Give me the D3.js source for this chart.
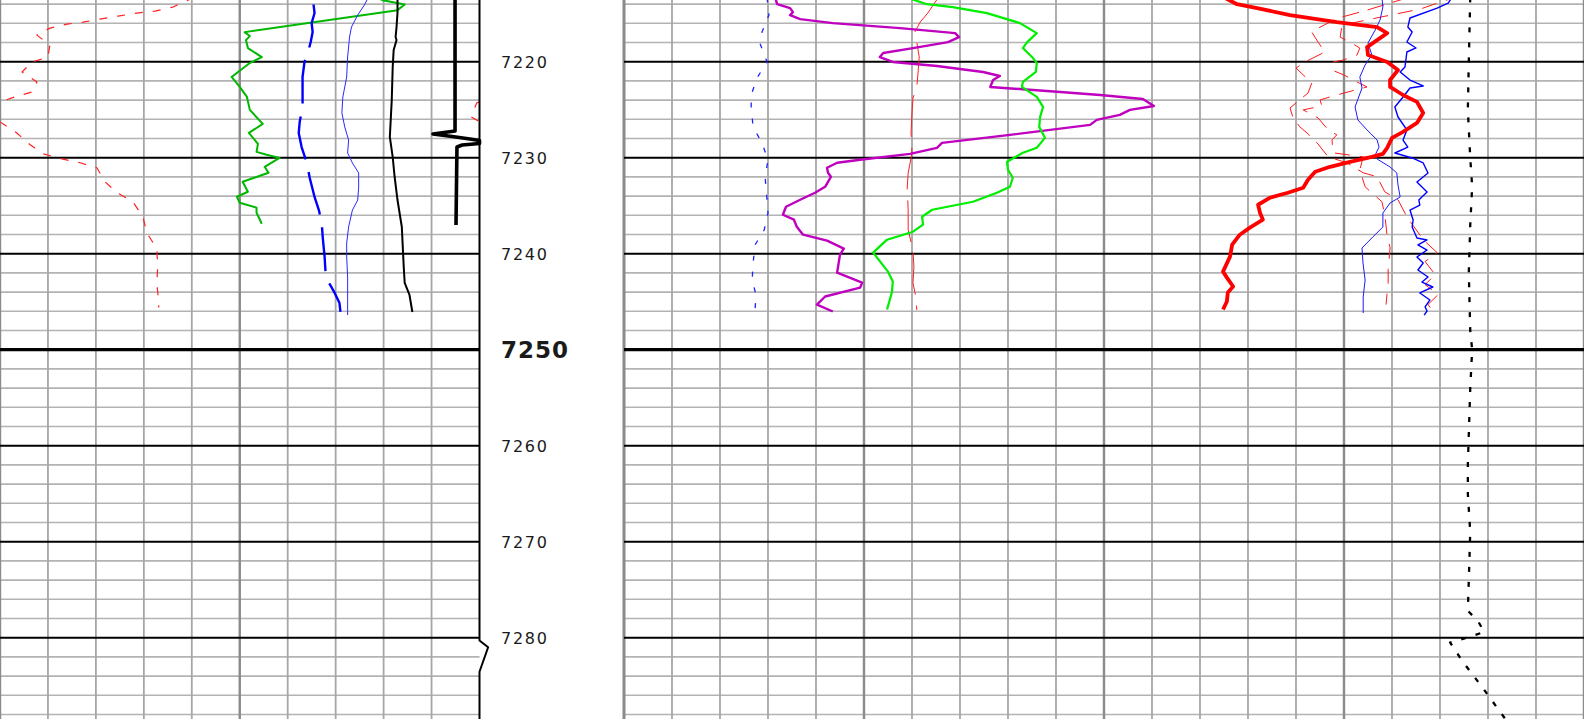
<!DOCTYPE html>
<html>
<head>
<meta charset="utf-8">
<script src="https://cdn.jsdelivr.net/npm/d3@7"></script>
<style>
  html, body { margin: 0; padding: 0; background: #fff; overflow: hidden; }
  svg { display: block; }
</style>
</head>
<body>
<svg id="log" width="1584" height="719"></svg>
<script>
// ---------------- depth window and labels ----------------
const depthTop = 7213.573, depthBottom = 7288.47;
const depthLabels = [7220, 7230, 7240, 7250, 7260, 7270, 7280];
const boldDepth = 7250;

// ---------------- track 1 curves (scale 0-100) ----------------
// red dashed resistivity, wraps around the track edges (backup scale)
const t1RedDepth = [7213.3, 7213.59, 7214.32, 7214.73, 7214.94, 7215.25, 7215.57, 7215.88, 7216.08, 7216.5, 7217.23, 7218.27, 7219.52, 7220.03, 7221.07, 7222.11, 7223.15, 7223.67, 7224.19, 7224.3, 7225.75, 7226.27, 7227.42, 7228.66, 7229.6, 7230.12, 7230.53, 7231.05, 7232.5, 7233.65, 7234.59, 7236.15, 7237.81, 7239.47, 7241.35, 7243.01, 7245.09, 7245.6];
const t1RedValue = [40.5, 39.2, 36.0, 32.3, 28.5, 24.6, 20.8, 17.3, 14.0, 10.4, 7.7, 10.4, 10.0, 6.7, 4.6, 7.7, 6.7, 3.1, 0, -0.6, -1.7, 0, 3.5, 6.3, 9.0, 12.9, 16.7, 20.2, 21.9, 24.4, 27.7, 29.8, 30.6, 32.7, 32.9, 32.7, 33.1, 33.1];

// green gamma ray
const t1GreenDepth = [7213.3, 7213.59, 7214.04, 7214.63, 7216.92, 7217.33, 7217.75, 7218.58, 7219.52, 7220.14, 7221.59, 7222.63, 7223.67, 7225.02, 7226.48, 7227.42, 7228.56, 7229.39, 7229.7, 7230.02, 7230.95, 7231.57, 7232.51, 7233.55, 7234.07, 7234.69, 7235.21, 7235.73, 7236.88];
const t1GreenValue = [78.5, 79.8, 84.4, 82.9, 51.0, 52.1, 51.3, 51.7, 54.6, 52.1, 48.3, 50.0, 51.5, 52.1, 54.8, 51.9, 53.8, 53.5, 55.6, 58.3, 55.2, 56.0, 50.6, 51.7, 49.4, 50.0, 53.5, 53.5, 54.6];

// blue long-dashed
const t1BlueDashDepth = [7213.3, 7214.09, 7214.93, 7215.97, 7216.91, 7217.95, 7218.68, 7220.03, 7221.59, 7224.72, 7226.28, 7227.43, 7228.89, 7230.55, 7232.11, 7234.09, 7235.45, 7236.8, 7238.26, 7240.34, 7242.01, 7242.95, 7244.09, 7245.14, 7246.07];
const t1BlueDashValue = [65.4, 65.4, 65.6, 65.0, 65.2, 64.8, 64.4, 63.5, 63.1, 63.1, 62.5, 62.3, 62.9, 64.0, 64.6, 65.6, 66.5, 67.1, 67.3, 67.7, 67.9, 68.5, 69.8, 70.8, 71.0];

// blue thin solid
const t1BlueThinDepth = [7213.3, 7214.09, 7215.14, 7216.39, 7217.43, 7219.51, 7221.59, 7223.68, 7225.34, 7226.8, 7228.16, 7229.51, 7230.55, 7231.59, 7233.05, 7234.41, 7235.45, 7237.22, 7238.89, 7240.34, 7242.43, 7244.82, 7246.39];
const t1BlueThinValue = [76.8, 76.0, 74.6, 73.3, 72.9, 72.5, 72.3, 71.5, 71.3, 71.9, 72.7, 72.5, 73.5, 74.8, 74.8, 74.6, 73.5, 72.7, 72.3, 72.3, 72.5, 72.5, 72.5];

// black solid
const t1BlackDepth = [7213.3, 7214.93, 7216.39, 7217.43, 7217.74, 7218.78, 7220.55, 7223.99, 7227.84, 7229.93, 7232.01, 7234.41, 7237.22, 7239.3, 7241.39, 7243.05, 7244.3, 7246.07];
const t1BlackValue = [82.9, 82.9, 82.7, 82.5, 82.7, 82.1, 81.9, 81.7, 81.3, 81.9, 82.3, 82.9, 83.8, 84.0, 84.2, 84.4, 85.4, 86.0];

// heavy black trace with the kick near 7228
const t1SpikeDepth = [7213.3, 7227.22, 7227.53, 7227.79, 7228.05, 7228.21, 7228.52, 7228.68, 7228.89, 7237.01];
const t1SpikeValue = [94.9, 94.9, 90.3, 94.3, 98.0, 100, 100, 96.4, 95.3, 95.1];

// black trace riding the right edge of track 1
const t1EdgeDepth = [7213.3, 7280.3, 7281.0, 7283.55, 7288.6];
const t1EdgeValue = [100, 100, 101.8, 100, 100];

// ---------------- track 2 curves (scale 0-200) ----------------
const t2BlueDotDepth = [7213.3, 7215.14, 7216.91, 7218.05, 7220.03, 7221.7, 7223.47, 7224.82, 7226.8, 7228.47, 7230.24, 7232.01, 7234.41, 7235.76, 7237.53, 7239.09, 7240.97, 7242.74, 7244.3, 7245.86];
const t2BlueDotValue = [29.8, 30.2, 28.75, 28.3, 29.8, 27.7, 26.5, 26.5, 26.9, 28.75, 30.0, 29.4, 29.8, 30.0, 29.2, 27.3, 26.9, 26.7, 27.5, 27.3];

const t2MagentaDepth = [7213.3, 7214.01, 7214.42, 7214.84, 7215.15, 7215.57, 7215.98, 7216.5, 7217.02, 7217.44, 7217.96, 7218.58, 7219.1, 7219.52, 7220.03, 7220.45, 7221.07, 7221.49, 7221.91, 7222.63, 7223.05, 7223.47, 7223.88, 7224.61, 7225.02, 7225.54, 7226.06, 7226.58, 7227.62, 7228.46, 7228.97, 7229.6, 7230.22, 7230.53, 7231.05, 7231.57, 7231.99, 7233.03, 7233.65, 7234.38, 7235.11, 7235.94, 7236.46, 7237.19, 7238.02, 7238.64, 7239.47, 7240.1, 7241.97, 7243.01, 7243.53, 7244.46, 7245.3, 7246.02];
const t2MagentaValue = [31.5, 31.9, 34.6, 35.2, 34.6, 36.7, 43.5, 57.5, 69.0, 69.8, 67.5, 60.2, 54.0, 53.3, 56.0, 65.2, 74.8, 78.3, 76.9, 76.3, 88.1, 99.2, 108.1, 110.4, 105.4, 103.3, 98.5, 97.1, 80.4, 66.25, 65.2, 59.6, 49.2, 44.4, 42.3, 42.5, 43.1, 41.9, 39.8, 36.7, 33.75, 33.1, 35.4, 36.0, 37.3, 42.3, 45.8, 45.0, 44.4, 49.6, 49.2, 41.9, 40.2, 43.5];

const t2GreenDepth = [7213.3, 7214.01, 7214.32, 7214.94, 7215.98, 7217.02, 7217.96, 7218.58, 7219.62, 7220.14, 7221.07, 7222.11, 7222.63, 7223.67, 7224.71, 7225.75, 7226.79, 7227.93, 7228.97, 7229.49, 7230.43, 7231.26, 7232.09, 7233.03, 7233.65, 7234.59, 7235.42, 7236.15, 7236.98, 7237.71, 7238.54, 7239.89, 7241.87, 7242.9, 7244.05, 7245.81];
const t2GreenValue = [58.8, 63.1, 68.5, 75.6, 82.5, 86.0, 84.0, 83.1, 85.2, 86.0, 85.8, 83.1, 82.9, 86.0, 87.3, 86.7, 86.5, 87.7, 86.0, 83.1, 79.8, 80.0, 81.0, 80.4, 77.7, 72.7, 64.2, 62.1, 62.3, 60.2, 54.8, 51.9, 55.0, 56.0, 55.8, 54.8];

const t2RedDashDepth = [7213.3, 7214.93, 7215.87, 7216.91, 7217.95, 7219.51, 7221.18, 7222.64, 7223.78, 7225.34, 7227.43, 7229.51, 7231.59, 7233.16, 7235.45, 7237.53, 7239.62, 7241.39, 7243.05, 7244.51, 7245.86];
const t2RedDashValue = [65.5, 63.3, 61.7, 60.6, 61.0, 61.5, 61.25, 61.0, 60.2, 60.0, 59.8, 60.0, 59.2, 59.0, 59.2, 59.2, 60.2, 60.4, 60.2, 60.8, 61.0];

const t2RedThickDepth = [7213.3, 7214.01, 7214.42, 7215.15, 7215.88, 7216.4, 7217.02, 7217.75, 7218.48, 7219.31, 7220.03, 7220.87, 7221.91, 7222.63, 7223.47, 7224.19, 7225.34, 7226.38, 7227.31, 7227.93, 7228.97, 7229.6, 7229.91, 7230.43, 7230.95, 7231.47, 7232.3, 7233.13, 7233.65, 7234.17, 7234.9, 7235.73, 7236.46, 7237.29, 7238.02, 7239.06, 7240.31, 7241.87, 7242.49, 7243.42, 7244.05, 7244.98, 7245.81];
const t2RedThickValue = [125.0, 127.7, 131.9, 138.75, 148.5, 156.9, 159.0, 156.9, 154.8, 155.0, 159.0, 161.25, 159.6, 159.6, 162.3, 165.2, 166.5, 165.2, 162.3, 160.0, 159.0, 158.1, 155.8, 151.25, 147.1, 144.0, 142.5, 141.5, 138.3, 134.6, 132.1, 132.5, 133.1, 130.4, 128.3, 126.7, 126.25, 124.8, 125.6, 126.9, 125.8, 125.6, 124.8];

const t2BlueThinDepth = [7213.3, 7214.3, 7215.66, 7216.7, 7218.05, 7219.3, 7220.34, 7221.59, 7222.74, 7224.72, 7226.07, 7227.11, 7228.16, 7228.89, 7229.72, 7230.14, 7230.97, 7231.59, 7232.84, 7234.09, 7234.72, 7235.76, 7237.22, 7238.26, 7239.41, 7240.97, 7242.74, 7244.51, 7246.18];
const t2BlueThinValue = [157.9, 158.1, 157.5, 156.5, 155.0, 155.8, 154.4, 153.3, 153.75, 152.3, 152.9, 154.8, 156.9, 157.3, 156.5, 156.9, 159.6, 161.0, 161.25, 161.7, 159.6, 158.1, 158.1, 156.0, 153.75, 153.96, 154.4, 154.0, 154.0];

const t2BlueZigDepth = [7213.3, 7213.89, 7214.41, 7215.45, 7216.39, 7216.91, 7217.95, 7218.57, 7218.99, 7220.55, 7221.07, 7221.91, 7222.53, 7222.74, 7223.68, 7224.72, 7225.76, 7227.11, 7228.16, 7228.89, 7229.51, 7230.03, 7230.55, 7231.59, 7232.53, 7233.57, 7234.41, 7234.93, 7235.45, 7236.49, 7237.22, 7238.37, 7238.57, 7239.09, 7239.62, 7240.34, 7240.97, 7241.7, 7242.43, 7242.95, 7243.47, 7244.09, 7244.82, 7245.55, 7245.97, 7246.39];
const t2BlueZigValue = [172.5, 171.7, 169.4, 163.75, 163.3, 164.2, 163.1, 165.0, 163.1, 162.7, 161.7, 163.75, 166.5, 163.75, 162.3, 160.6, 161.25, 163.1, 162.3, 163.3, 160.6, 164.2, 166.5, 167.5, 165.2, 167.3, 165.6, 165.8, 163.75, 164.4, 164.2, 165.2, 167.3, 165.4, 167.3, 165.2, 166.5, 165.4, 167.5, 166.25, 168.5, 165.8, 167.9, 166.9, 167.3, 166.7];

// two noisy red dashed traces
const t2RedNoiseADepth = [7213.3, 7214.63, 7215.46, 7216.4, 7216.92, 7217.96, 7218.99, 7220.03, 7220.66, 7222.22, 7223.26, 7224.82, 7225.86, 7226.79, 7227.42, 7228.46, 7229.91, 7230.53, 7231.57, 7231.99, 7233.55, 7234.38, 7236.15, 7238.54, 7239.89, 7240.82, 7242.18, 7243.22, 7244.26, 7245.3, 7245.81];
const t2RedNoiseAValue = [163.5, 154.8, 148.75, 145.0, 143.3, 144.6, 146.0, 141.9, 140.0, 143.3, 142.5, 138.75, 139.4, 140.8, 142.3, 144.4, 146.7, 150.6, 154.0, 156.9, 158.5, 161.25, 163.1, 166.5, 169.4, 166.9, 169.0, 166.9, 169.6, 167.5, 168.3];
const t2RedNoiseBDepth = [7213.3, 7214.53, 7215.05, 7216.19, 7217.44, 7217.96, 7218.58, 7219.31, 7219.83, 7220.03, 7220.87, 7221.39, 7221.91, 7222.63, 7223.26, 7223.67, 7223.98, 7224.61, 7225.02, 7225.86, 7227.1, 7227.62, 7228.14, 7229.49, 7229.91, 7231.26, 7233.03, 7234.59, 7235.94, 7238.23, 7239.37, 7241.66, 7243.01, 7245.3];
const t2RedNoiseBValue = [173.0, 165.8, 160.6, 149.6, 149.2, 151.25, 153.3, 152.7, 149.8, 147.7, 147.5, 150.0, 151.9, 154.8, 150.0, 147.1, 145.0, 145.4, 141.5, 144.6, 146.7, 148.5, 147.5, 147.7, 154.0, 153.3, 154.4, 157.9, 158.5, 159.0, 159.6, 159.2, 159.2, 158.75];

// black dotted trace running the full window
const t2BlackDotDepth = [7213.3, 7220, 7225, 7230, 7233, 7237, 7242, 7248, 7250, 7254, 7262, 7265, 7269, 7274, 7277.2, 7278.25, 7279.4, 7280.0, 7280.5, 7282.4, 7285.3, 7288.6];
const t2BlackDotValue = [176.3, 176.0, 175.8, 176.3, 176.7, 176.3, 176.0, 176.3, 176.7, 176.3, 175.8, 175.8, 176.3, 176.0, 175.8, 177.9, 179.2, 175.6, 172.1, 174.6, 179.0, 183.8];

// ---------------- layout ----------------
const W = 1584, H = 719;
const track1 = { left: 0, right: 479.5, divisions: 10 };
const track2 = { left: 624, right: 1584, divisions: 20 };

const svg = d3.select("#log");
const y = d3.scaleLinear().domain([depthTop, depthBottom]).range([0, H]);
const x1 = d3.scaleLinear().domain([0, 100]).range([track1.left, track1.right]);
const x2 = d3.scaleLinear().domain([0, 200]).range([track2.left, track2.right]);

// ---------------- grid ----------------
const grid = svg.append("g");
const minorDepths = d3.range(7214, 7289, 2).filter(d => d % 10 !== 0);
const majorDepths = d3.range(7220, 7289, 10);

[track1, track2].forEach(t => {
  grid.selectAll(null).data(minorDepths).enter().append("line")
    .attr("x1", t.left).attr("x2", t.right)
    .attr("y1", d => y(d)).attr("y2", d => y(d))
    .attr("stroke", "#b3b3b3").attr("stroke-width", 1.6);
});

const vScale1 = d3.range(0, 100, 10);          // left-track divisions (edge drawn by a trace)
const vScale2 = d3.range(0, 201, 10);
grid.selectAll(null).data(vScale1).enter().append("line")
  .attr("x1", d => x1(d)).attr("x2", d => x1(d)).attr("y1", 0).attr("y2", H)
  .attr("stroke", d => d % 50 === 0 ? "#8a8a8a" : "#a6a6a6")
  .attr("stroke-width", d => d % 50 === 0 ? 2.4 : 1.8);
grid.selectAll(null).data(vScale2).enter().append("line")
  .attr("x1", d => x2(d)).attr("x2", d => x2(d)).attr("y1", 0).attr("y2", H)
  .attr("stroke", d => d % 50 === 0 ? "#8a8a8a" : "#a6a6a6")
  .attr("stroke-width", d => d === 0 ? 3 : (d % 50 === 0 ? 2.4 : 1.8));

[track1, track2].forEach(t => {
  grid.selectAll(null).data(majorDepths).enter().append("line")
    .attr("x1", t.left).attr("x2", t.right)
    .attr("y1", d => y(d)).attr("y2", d => y(d))
    .attr("stroke", "#000")
    .attr("stroke-width", d => d === boldDepth ? 3.2 : 2);
});

// ---------------- curves ----------------
const curves = svg.append("g").attr("fill", "none")
  .attr("stroke-linejoin", "round");

function pairs(depths, values) { return depths.map((d, i) => [d, values[i]]); }

// split a trace where it runs off a track edge and continue it from the opposite edge
function wrapSplit(pts, lo, hi) {
  const w = hi - lo;
  const band = v => Math.floor((v - lo) / w);
  const segs = [];
  let cur = [];
  pts.forEach((p, i) => {
    const k = band(p[1]);
    if (i > 0) {
      const q = pts[i - 1], kq = band(q[1]);
      if (k !== kq) {
        const edge = lo + w * Math.max(k, kq);
        const t = (edge - q[1]) / (p[1] - q[1]);
        const d = q[0] + t * (p[0] - q[0]);
        cur.push([d, k > kq ? hi : lo]);
        segs.push(cur);
        cur = [[d, k > kq ? lo : hi]];
      }
    }
    cur.push([p[0], p[1] - w * k]);
  });
  segs.push(cur);
  return segs;
}

function draw(segments, xs, style) {
  const line = d3.line().x(p => xs(p[1])).y(p => y(p[0]));
  segments.forEach(seg => {
    const path = curves.append("path").attr("d", line(seg))
      .attr("stroke", style.color).attr("stroke-width", style.width);
    if (style.dash) path.attr("stroke-dasharray", style.dash);
    if (style.offset) path.attr("stroke-dashoffset", style.offset);
  });
}

// track 1
draw(wrapSplit(pairs(t1RedDepth, t1RedValue), 0, 100), x1, { color: "#ff2020", width: 1.2, dash: "8,10" });
draw([pairs(t1GreenDepth, t1GreenValue)], x1, { color: "#00b800", width: 2 });
draw([pairs(t1BlueDashDepth, t1BlueDashValue)], x1, { color: "#0000ff", width: 2.4, dash: "44,13", offset: 50 });
draw([pairs(t1BlueThinDepth, t1BlueThinValue)], x1, { color: "#2a2aff", width: 1 });
draw([pairs(t1BlackDepth, t1BlackValue)], x1, { color: "#000", width: 2 });
draw([pairs(t1SpikeDepth, t1SpikeValue)], x1, { color: "#000", width: 3.6 });
draw([pairs(t1EdgeDepth, t1EdgeValue)], x1, { color: "#000", width: 2 });

// track 2
draw([pairs(t2BlueDotDepth, t2BlueDotValue)], x2, { color: "#2020ff", width: 1.3, dash: "5,11" });
draw([pairs(t2RedDashDepth, t2RedDashValue)], x2, { color: "#ff2020", width: 1, dash: "42,11" });
draw([pairs(t2MagentaDepth, t2MagentaValue)], x2, { color: "#bf00bf", width: 2.4 });
draw([pairs(t2GreenDepth, t2GreenValue)], x2, { color: "#00ee00", width: 2.2 });
draw([pairs(t2RedNoiseADepth, t2RedNoiseAValue)], x2, { color: "#ff1a1a", width: 1, dash: "17,9" });
draw([pairs(t2RedNoiseBDepth, t2RedNoiseBValue)], x2, { color: "#ff1a1a", width: 1, dash: "15,10", offset: 6 });
draw([pairs(t2BlueThinDepth, t2BlueThinValue)], x2, { color: "#1a1aff", width: 1 });
draw([pairs(t2BlueZigDepth, t2BlueZigValue)], x2, { color: "#0000ff", width: 1.4 });
draw([pairs(t2RedThickDepth, t2RedThickValue)], x2, { color: "#ff0000", width: 3.8 });
draw([pairs(t2BlackDotDepth, t2BlackDotValue)], x2, { color: "#000", width: 2.3, dash: "5,10" });

// ---------------- depth labels ----------------
svg.append("g").selectAll("text").data(depthLabels).enter().append("text")
  .attr("x", 501)
  .attr("y", d => y(d) + (d === boldDepth ? 8.5 : 6))
  .attr("font-family", "'DejaVu Sans', sans-serif")
  .attr("font-size", d => d === boldDepth ? 23 : 16)
  .attr("font-weight", d => d === boldDepth ? "bold" : "normal")
  .attr("letter-spacing", d => d === boldDepth ? 1 : 1.7)
  .attr("fill", "#1a1a1a")
  .text(d => d);
</script>
</body>
</html>
